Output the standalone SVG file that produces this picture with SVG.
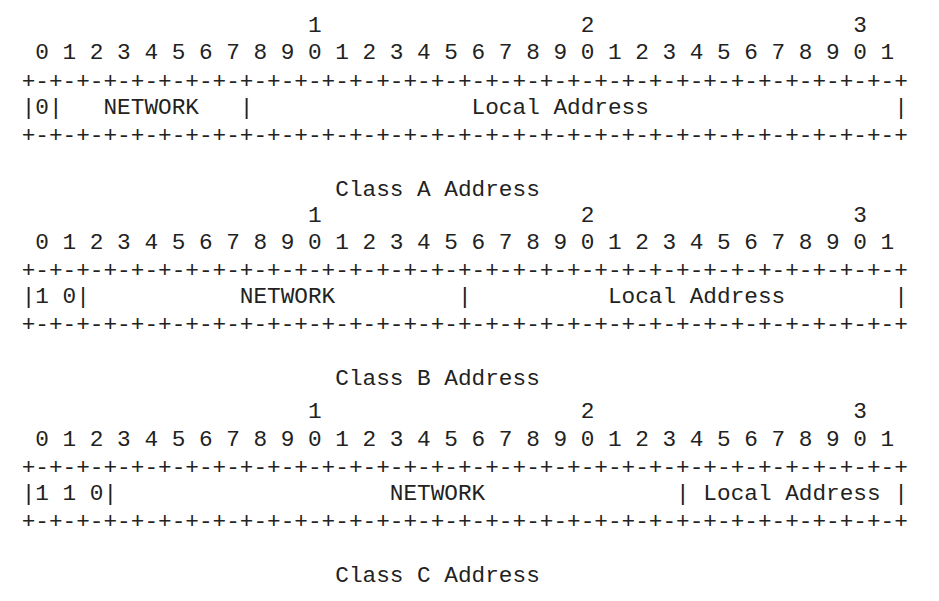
<svg xmlns="http://www.w3.org/2000/svg" width="939" height="601" viewBox="0 0 939 601">
<style>
text{font-family:"Liberation Mono","Courier New",monospace;font-size:22.73px;fill:#222;white-space:pre}
</style>
<rect width="939" height="601" fill="#fff"/>
<g id="classA" xml:space="preserve" transform="translate(1,1.5)">
<text x="20.7" y="30.5">                     1                   2                   3</text>
<text x="20.7" y="57.8"> 0 1 2 3 4 5 6 7 8 9 0 1 2 3 4 5 6 7 8 9 0 1 2 3 4 5 6 7 8 9 0 1</text>
<text x="20.7" y="86">+-+-+-+-+-+-+-+-+-+-+-+-+-+-+-+-+-+-+-+-+-+-+-+-+-+-+-+-+-+-+-+-+</text>
<text x="20.7" y="112.3">|0|   NETWORK   |                Local Address                  |</text>
<text x="20.7" y="140.5">+-+-+-+-+-+-+-+-+-+-+-+-+-+-+-+-+-+-+-+-+-+-+-+-+-+-+-+-+-+-+-+-+</text>
<text x="20.7" y="194.5">                       Class A Address</text>
</g>
<g id="classB" xml:space="preserve" transform="translate(1,1.5)">
<text x="20.7" y="220">                     1                   2                   3</text>
<text x="20.7" y="247.5"> 0 1 2 3 4 5 6 7 8 9 0 1 2 3 4 5 6 7 8 9 0 1 2 3 4 5 6 7 8 9 0 1</text>
<text x="20.7" y="275.5">+-+-+-+-+-+-+-+-+-+-+-+-+-+-+-+-+-+-+-+-+-+-+-+-+-+-+-+-+-+-+-+-+</text>
<text x="20.7" y="301.8">|1 0|           NETWORK         |          Local Address        |</text>
<text x="20.7" y="329.5">+-+-+-+-+-+-+-+-+-+-+-+-+-+-+-+-+-+-+-+-+-+-+-+-+-+-+-+-+-+-+-+-+</text>
<text x="20.7" y="383.3">                       Class B Address</text>
</g>
<g id="classC" xml:space="preserve" transform="translate(1,1.5)">
<text x="20.7" y="416.8">                     1                   2                   3</text>
<text x="20.7" y="444.2"> 0 1 2 3 4 5 6 7 8 9 0 1 2 3 4 5 6 7 8 9 0 1 2 3 4 5 6 7 8 9 0 1</text>
<text x="20.7" y="472">+-+-+-+-+-+-+-+-+-+-+-+-+-+-+-+-+-+-+-+-+-+-+-+-+-+-+-+-+-+-+-+-+</text>
<text x="20.7" y="498.4">|1 1 0|                    NETWORK              | Local Address |</text>
<text x="20.7" y="526">+-+-+-+-+-+-+-+-+-+-+-+-+-+-+-+-+-+-+-+-+-+-+-+-+-+-+-+-+-+-+-+-+</text>
<text x="20.7" y="580">                       Class C Address</text>
</g>
</svg>
